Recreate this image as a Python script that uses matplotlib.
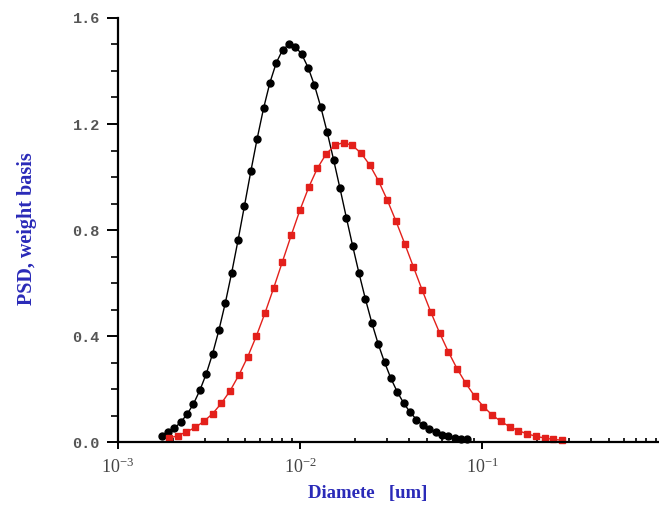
import matplotlib
matplotlib.use("Agg")
import matplotlib.pyplot as plt
from matplotlib.ticker import LogLocator, MultipleLocator, FixedLocator

# diameter [um] and PSD values
diam_black = [0.001738, 0.001884, 0.002042, 0.002213, 0.002399, 0.002600, 0.002818,
              0.003055, 0.003311, 0.003589, 0.003890, 0.004217, 0.004571, 0.004955,
              0.005370, 0.005821, 0.006310, 0.006839, 0.007413, 0.008035, 0.008710,
              0.009441, 0.01023, 0.01109, 0.01202, 0.01303, 0.01413, 0.01531, 0.01660,
              0.01799, 0.01950, 0.02113, 0.02291, 0.02483, 0.02692, 0.02917, 0.03162,
              0.03428, 0.03715, 0.04027, 0.04365, 0.04732, 0.05129, 0.05559, 0.06026,
              0.06531, 0.07079, 0.07674, 0.08318]
psd_black = [0.024, 0.036, 0.052, 0.075, 0.105, 0.144, 0.195, 0.257, 0.333, 0.423,
             0.525, 0.639, 0.762, 0.891, 1.021, 1.145, 1.259, 1.356, 1.431, 1.480,
             1.500, 1.492, 1.463, 1.413, 1.346, 1.263, 1.168, 1.065, 0.957, 0.847,
             0.739, 0.636, 0.539, 0.450, 0.370, 0.301, 0.240, 0.189, 0.147, 0.113,
             0.085, 0.063, 0.048, 0.036, 0.028, 0.022, 0.017, 0.013, 0.010]

diam_red = [0.001905, 0.002128, 0.002377, 0.002655, 0.002965, 0.003311, 0.003698,
            0.004130, 0.004613, 0.005152, 0.005754, 0.006427, 0.007178, 0.008017,
            0.008954, 0.01000, 0.01117, 0.01247, 0.01393, 0.01556, 0.01738, 0.01941,
            0.02168, 0.02421, 0.02704, 0.03020, 0.03373, 0.03767, 0.04207, 0.04699,
            0.05248, 0.05861, 0.06546, 0.07311, 0.08166, 0.09120, 0.1019, 0.1138,
            0.1271, 0.1419, 0.1585, 0.1770, 0.1977, 0.2208, 0.2466, 0.2754]
psd_red = [0.014, 0.024, 0.038, 0.055, 0.078, 0.107, 0.146, 0.193, 0.252, 0.320,
           0.399, 0.487, 0.582, 0.681, 0.780, 0.875, 0.961, 1.033, 1.087, 1.120,
           1.130, 1.119, 1.090, 1.045, 0.985, 0.913, 0.833, 0.748, 0.660, 0.573,
           0.489, 0.411, 0.340, 0.276, 0.221, 0.173, 0.134, 0.102, 0.078, 0.058,
           0.043, 0.031, 0.022, 0.015, 0.010, 0.007]

fig = plt.figure(figsize=(6.59, 5.14), dpi=100)
ax = fig.add_axes([0.179, 0.140, 0.821, 0.825])

ax.plot(diam_black, psd_black, color="black", lw=1.0, marker="o", ms=5,
        mec="black", mfc="black", clip_on=False)
ax.plot(diam_red, psd_red, color="#e3201b", lw=1.0, marker="s", ms=4.5,
        mec="#e3201b", mfc="#e3201b", clip_on=False)

ax.set_xscale("log")
ax.set_xlim(1e-3, 0.94)
ax.set_ylim(0, 1.6)

ax.spines["top"].set_visible(False)
ax.spines["right"].set_visible(False)
ax.spines["left"].set_linewidth(1.6)
ax.spines["bottom"].set_linewidth(1.6)

ax.xaxis.set_major_locator(FixedLocator([1e-3, 1e-2, 1e-1]))
ax.xaxis.set_minor_locator(LogLocator(base=10, subs=range(2, 10)))
ax.set_xticklabels([r"$\mathregular{10^{-3}}$", r"$\mathregular{10^{-2}}$",
                    r"$\mathregular{10^{-1}}$"])
ax.xaxis.set_minor_formatter(plt.NullFormatter())
ax.tick_params(axis="x", which="major", direction="out", length=5, width=1.4,
               pad=6, labelsize=13, labelcolor="#444444")
ax.tick_params(axis="x", which="minor", direction="in", length=3, width=1.2)
for lab in ax.get_xticklabels():
    lab.set_family("Liberation Serif")

ax.yaxis.set_major_locator(MultipleLocator(0.4))
ax.yaxis.set_minor_locator(MultipleLocator(0.1))
ax.set_yticks([0.0, 0.4, 0.8, 1.2, 1.6])
ax.set_yticklabels(["0.0", "0.4", "0.8", "1.2", "1.6"])
ax.tick_params(axis="y", which="major", direction="out", length=8, width=1.4,
               pad=5, labelsize=11, labelcolor="#555555")
ax.tick_params(axis="y", which="minor", direction="out", length=5, width=1.2)
for lab in ax.get_yticklabels():
    lab.set_family("Liberation Mono")
    lab.set_weight("bold")

fig.text(0.041, 0.555, "PSD, weight basis", rotation=90, ha="center", va="center",
         color="#2a2ab8", family="Liberation Serif", weight="bold", fontsize=14.5)
fig.text(0.558, 0.040, "Diamete   [um]", ha="center", va="center",
         color="#2a2ab8", family="Liberation Serif", weight="bold", fontsize=13.5)

fig.savefig("out.png", dpi=100)
